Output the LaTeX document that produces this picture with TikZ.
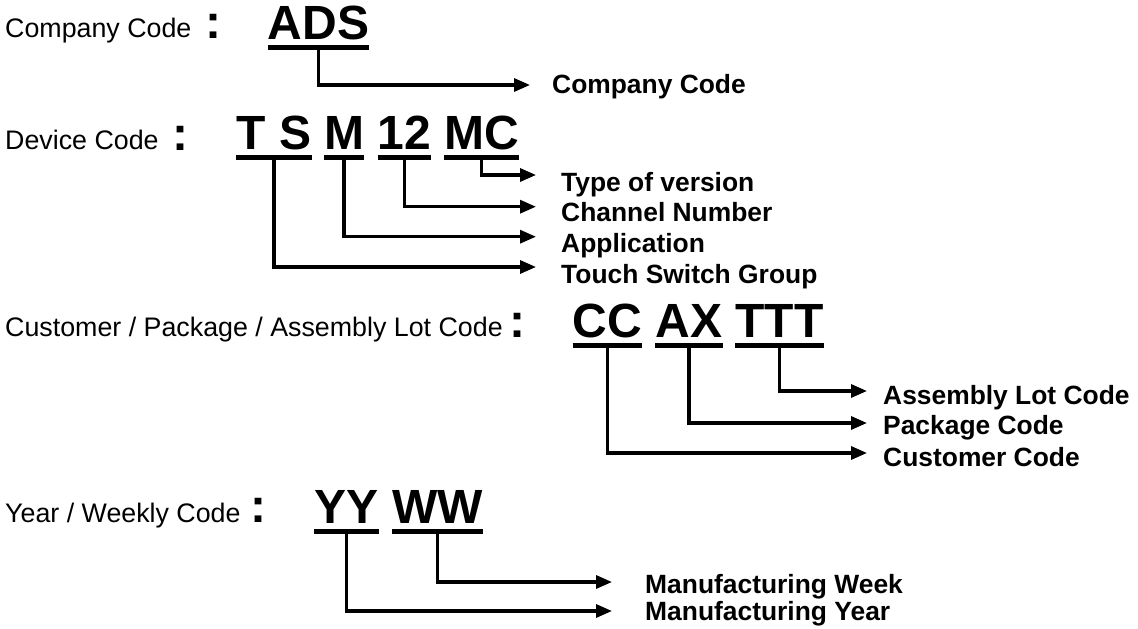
\documentclass[tikz,border=0pt]{standalone}
\usepackage{fontspec}
\setmainfont{Liberation Sans}
\usetikzlibrary{arrows.meta}
\begin{document}
\begin{tikzpicture}[x=1pt,y=-1pt,
  lab/.style={font=\fontsize{26.8}{30}\selectfont, inner sep=0pt, anchor=base west},
  desc/.style={font=\fontsize{26.4}{30}\selectfont\bfseries, inner sep=0pt, anchor=base west},
  code/.style={font=\fontsize{48}{56}\selectfont\bfseries, inner sep=0pt, anchor=base, text depth=0pt},
  colon/.style={font=\fontsize{48}{54}\selectfont\bfseries, inner sep=0pt, anchor=base},
  uline/.style={line width=5pt},
  conn/.style={line width=3.2pt, -{Triangle[length=16pt,width=13pt]}},
]
\useasboundingbox (0,0) rectangle (1138,629);

% left labels and colons
\node[lab] (l1) at (5,37) {Company Code};
\node[lab] (l2) at (5,149) {Device Code};
\node[lab] (l3) at (5,336) {Customer / Package / Assembly Lot Code};
\node[lab] (l4) at (5,522) {Year / Weekly Code};
\node[colon] (c1) at (213,38) {:};
\node[colon] (c2) at (180,150) {:};
\node[colon] (c3) at (517.5,337) {:};
\node[colon] (c4) at (258.5,522) {:};

% code pieces
\node[code] (ads) at (318.5,39) {ADS};
\node[code] (ts) at (274,149) {T S};
\node[code] (m) at (344,149) {M};
\node[code] (n12) at (404.5,149) {12};
\node[code] (mc) at (481.5,149) {MC};
\node[code] (cc) at (607.5,337) {CC};
\node[code] (ax) at (689,337) {AX};
\node[code] (ttt) at (779.5,337) {TTT};
\node[code] (yy) at (346.5,523) {YY};
\node[code] (ww) at (437.5,523) {WW};

% underlines
\foreach \n in {ads,ts,m,n12,mc,cc,ax,ttt,yy,ww}
  \draw[uline] ([yshift=-8.5pt]\n.south west) -- ([yshift=-8.5pt]\n.south east);

% arrow tips
\coordinate (t1) at (530,85);
\coordinate (t2) at (536,175);
\coordinate (t3) at (536,206.7);
\coordinate (t4) at (536,236.7);
\coordinate (t5) at (536,267);
\coordinate (t6) at (867,391);
\coordinate (t7) at (867,423);
\coordinate (t8) at (867,453);
\coordinate (t9) at (612,582);
\coordinate (t10) at (612,611);

% connectors
\draw[conn] ([yshift=-11pt]ads.south) |- (t1);
\draw[conn] ([yshift=-11pt]mc.south) |- (t2);
\draw[conn] ([yshift=-11pt]n12.south) |- (t3);
\draw[conn] ([yshift=-11pt]m.south) |- (t4);
\draw[conn] ([yshift=-11pt]ts.south) |- (t5);
\draw[conn] ([yshift=-11pt]ttt.south) |- (t6);
\draw[conn] ([yshift=-11pt]ax.south) |- (t7);
\draw[conn] ([yshift=-11pt]cc.south) |- (t8);
\draw[conn] ([yshift=-11pt]ww.south) |- (t9);
\draw[conn] ([yshift=-11pt]yy.south) |- (t10);

% descriptions
\node[desc] (d1) at (552,93.3) {Company Code};
\node[desc] (d2) at (561,191) {Type of version};
\node[desc] (d3) at (561,221) {Channel Number};
\node[desc] (d4) at (561,252) {Application};
\node[desc] (d5) at (561,283) {Touch Switch Group};
\node[desc] (d6) at (883,404) {Assembly Lot Code};
\node[desc] (d7) at (883,434) {Package Code};
\node[desc] (d8) at (883,466) {Customer Code};
\node[desc] (d9) at (645,593) {Manufacturing Week};
\node[desc] (d10) at (645,620) {Manufacturing Year};
\end{tikzpicture}
\end{document}
